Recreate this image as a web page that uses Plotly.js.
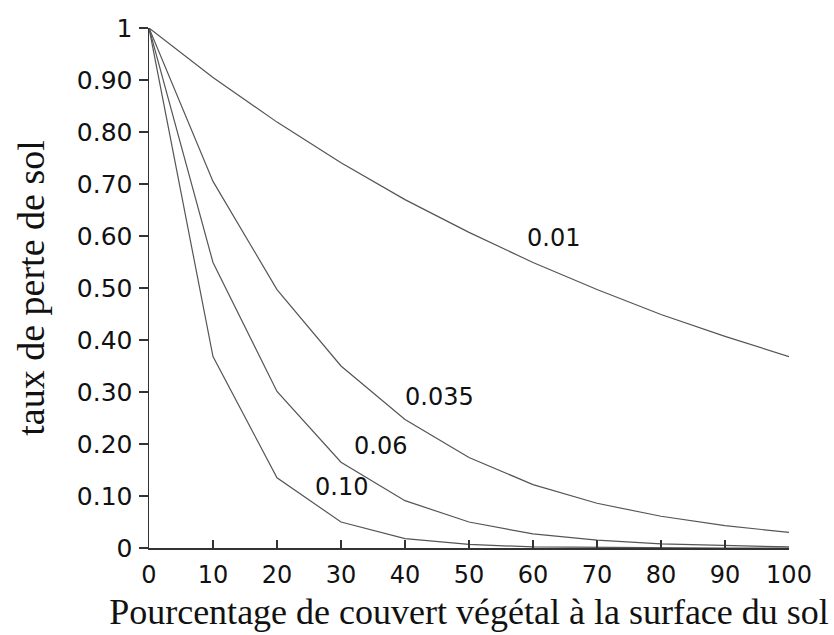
<!DOCTYPE html>
<html>
<head>
<meta charset="utf-8">
<script src="https://cdn.plot.ly/plotly-3.0.1.min.js"></script>
<style>html,body{margin:0;padding:0;background:#fff;}#chart{width:834px;height:635px;}</style>
</head>
<body>
<div id="chart"></div>
<script>
// Couvert végétal (%)
const cover = [0, 10, 20, 30, 40, 50, 60, 70, 80, 90, 100];
// Taux de perte de sol, pour chaque coefficient b
const loss001  = [1, 0.905, 0.819, 0.741, 0.670, 0.607, 0.549, 0.497, 0.449, 0.407, 0.368];
const loss0035 = [1, 0.705, 0.497, 0.350, 0.247, 0.174, 0.122, 0.086, 0.061, 0.043, 0.030];
const loss006  = [1, 0.549, 0.301, 0.165, 0.091, 0.050, 0.027, 0.015, 0.008, 0.005, 0.002];
const loss010  = [1, 0.368, 0.135, 0.050, 0.018, 0.007, 0.002, 0.001, 0.000, 0.000, 0.000];
const seriesNames = ["0.01", "0.035", "0.06", "0.10"];
const labelX = [63.2, 45.4, 36.1, 30.0];
const labelY = [0.596, 0.290, 0.196, 0.117];
const yTickVals = [0, 0.1, 0.2, 0.3, 0.4, 0.5, 0.6, 0.7, 0.8, 0.9, 1];
const yTickText = ["0", "0.10", "0.20", "0.30", "0.40", "0.50", "0.60", "0.70", "0.80", "0.90", "1"];
const xTickVals = [0, 10, 20, 30, 40, 50, 60, 70, 80, 90, 100];

const allSeries = [loss001, loss0035, loss006, loss010];
const traces = allSeries.map((ys, i) => ({
  x: cover, y: ys, type: "scatter", mode: "lines", name: seriesNames[i],
  line: {color: "#555555", width: 1.2}, cliponaxis: false, hoverinfo: "skip"
}));

const annotations = seriesNames.map((t, i) => ({
  x: labelX[i], y: labelY[i], xref: "x", yref: "y", text: t, showarrow: false,
  font: {family: "DejaVu Sans", size: 24, color: "#111"}
}));

const layout = {
  width: 834, height: 635,
  margin: {l: 149, r: 45, t: 28, b: 87},
  paper_bgcolor: "#fff", plot_bgcolor: "#fff",
  showlegend: false,
  font: {family: "DejaVu Sans", color: "#111"},
  xaxis: {
    range: [0, 100], tickvals: xTickVals, ticktext: xTickVals.map(String),
    ticks: "inside", ticklen: 8, tickwidth: 1.2, tickcolor: "#333",
    showline: true, linecolor: "#333", linewidth: 1.5, showgrid: false, zeroline: false,
    tickfont: {family: "DejaVu Sans", size: 24, color: "#111"},
    ticklabelstandoff: 5,
    title: {text: "Pourcentage de couvert végétal à la surface du sol",
            font: {family: "Liberation Serif", size: 36, color: "#111"}, standoff: 10},
    automargin: false
  },
  yaxis: {
    range: [0, 1], tickvals: yTickVals, ticktext: yTickText,
    ticks: "outside", ticklen: 9, tickwidth: 1.2, tickcolor: "#333",
    showline: true, linecolor: "#333", linewidth: 1.5, showgrid: false, zeroline: false,
    tickfont: {family: "DejaVu Sans", size: 25, color: "#111"},
    ticklabelstandoff: 1,
    title: {text: "taux de perte de sol",
            font: {family: "Liberation Serif", size: 38, color: "#111"}, standoff: 20},
    automargin: false
  },
  annotations: annotations
};

Plotly.newPlot("chart", traces, layout, {staticPlot: true, displayModeBar: false});
</script>
</body>
</html>
